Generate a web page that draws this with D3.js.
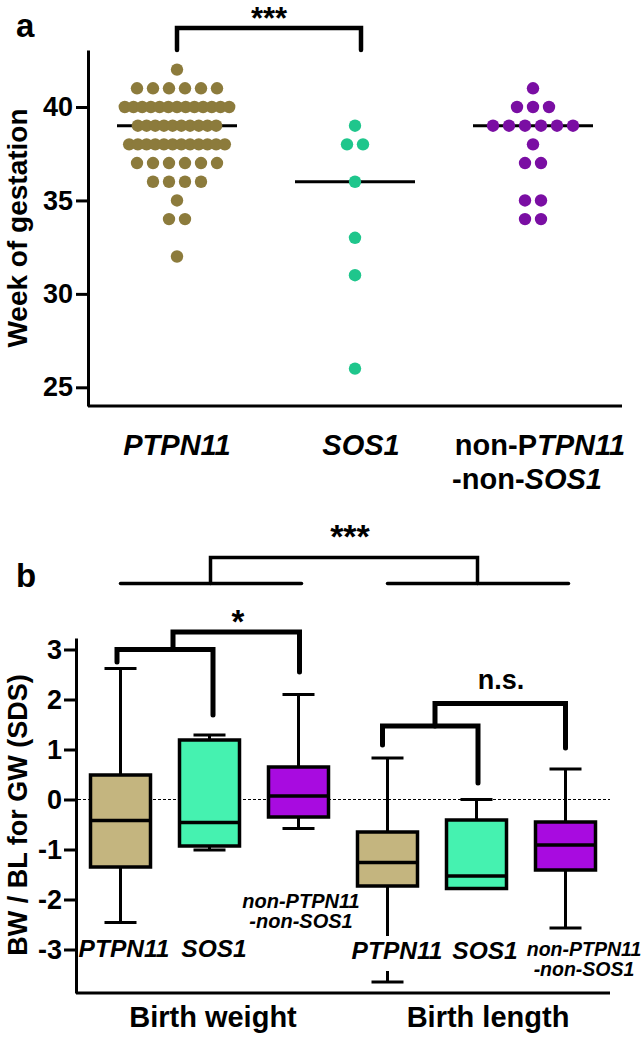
<!DOCTYPE html>
<html>
<head>
<meta charset="utf-8">
<script src="https://cdn.jsdelivr.net/npm/d3@7"></script>
<style>
  html, body { margin: 0; padding: 0; background: #fff; }
  svg { display: block; }
  text { font-family: "Liberation Sans", Arial, sans-serif; font-weight: bold; fill: #000; }
</style>
</head>
<body>
<div id="chart"></div>
<script>
// ---------- DATA: panel a (week of gestation, one value per dot) ----------
const groupsA = ["PTPN11", "SOS1", "non"];
const gestPTPN11 = [42,
  41, 41, 41, 41, 41, 41,
  40, 40, 40, 40, 40, 40, 40, 40, 40, 40, 40, 40, 40,
  39, 39, 39, 39, 39, 39, 39, 39, 39, 39,
  38, 38, 38, 38, 38, 38, 38, 38, 38, 38, 38, 38,
  37, 37, 37, 37, 37, 37,
  36, 36, 36, 36,
  35,
  34, 34,
  32];
const gestSOS1 = [39, 38, 38, 36, 33, 31, 26];
const gestNon = [41, 40, 40, 40, 39, 39, 39, 39, 39, 39, 38, 37, 37, 35, 35, 34, 34];
const gestMedians = [39, 36, 39];
const ticksA = [25, 30, 35, 40];

// ---------- DATA: panel b (box plots, SDS) ----------
const boxCategories = ["BW-PTPN11", "BW-SOS1", "BW-non", "BL-PTPN11", "BL-SOS1", "BL-non"];
const boxMin    = [-2.46, -1.01, -0.58, -3.65, -1.78, -2.57];
const boxQ1     = [-1.35, -0.93, -0.35, -1.73, -1.78, -1.41];
const boxMedian = [-0.42, -0.46,  0.07, -1.26, -1.53, -0.91];
const boxQ3     = [ 0.49,  1.19,  0.65, -0.65, -0.41, -0.45];
const boxMax    = [ 2.62,  1.29,  2.10,  0.83,  0.00,  0.61];
const ticksB = [-3, -2, -1, 0, 1, 2, 3];

const colDot = {PTPN11: "#8c7b3c", SOS1: "#1fc68c", non: "#7a0ea3"};
const colBox = ["#c4b57f", "#45f2b0", "#a80be0", "#c4b57f", "#45f2b0", "#a80be0"];

const W = 644, H = 1041;
const svg = d3.select("#chart").append("svg").attr("width", W).attr("height", H);

// ================= PANEL A =================
const xA = d3.scalePoint().domain(groupsA).range([88, 622]).padding(0.5);
const yA = d3.scaleLinear().domain([24, 43.05]).range([406, 50]);

const axA = svg.append("g").attr("transform", "translate(88,0)")
  .call(d3.axisLeft(yA).tickValues(ticksA).tickSize(12).tickSizeOuter(0).tickPadding(3));
axA.select(".domain").attr("stroke-width", 3);
axA.selectAll(".tick line").attr("stroke-width", 3);
axA.selectAll(".tick text").attr("font-size", 27).attr("font-family", "Liberation Sans, Arial, sans-serif").attr("font-weight", "bold").attr("fill", "#000");
svg.append("line").attr("x1", 88).attr("x2", 622).attr("y1", 406).attr("y2", 406)
  .attr("stroke", "#000").attr("stroke-width", 3);

// median lines
svg.selectAll(".medA").data(groupsA).enter().append("line")
  .attr("x1", d => xA(d) - 60).attr("x2", d => xA(d) + 60)
  .attr("y1", (d, i) => yA(gestMedians[i])).attr("y2", (d, i) => yA(gestMedians[i]))
  .attr("stroke", "#000").attr("stroke-width", 3);

// dots (row layout)
function rowLayout(values, g) {
  const counts = d3.rollup(values, v => v.length, v => v);
  const out = [];
  counts.forEach((n, v) => {
    const sp = n <= 7 ? 16 : 8.7;
    for (let i = 0; i < n; i++) out.push({g, v, dx: (i - (n - 1) / 2) * sp});
  });
  return out;
}
const dots = [].concat(rowLayout(gestPTPN11, "PTPN11"), rowLayout(gestSOS1, "SOS1"), rowLayout(gestNon, "non"));
svg.selectAll(".dot").data(dots).enter().append("circle")
  .attr("cx", d => xA(d.g) + d.dx).attr("cy", d => yA(d.v)).attr("r", 6.2)
  .attr("fill", d => colDot[d.g]);

// bracket a
const bx1 = xA("PTPN11"), bx2 = xA("SOS1") + 6;
svg.append("path").attr("d", `M${bx1},50 V28 H${bx2} V50`)
  .attr("fill", "none").attr("stroke", "#000").attr("stroke-width", 4.5).attr("stroke-linecap", "round").attr("stroke-linejoin", "miter");
svg.append("text").attr("x", (bx1 + bx2) / 2).attr("y", 29).attr("text-anchor", "middle").attr("font-size", 31).text("***");

// labels a
svg.append("text").attr("x", 16).attr("y", 37).attr("font-size", 33).text("a");
svg.append("text").attr("transform", `translate(27,228) rotate(-90)`).attr("text-anchor", "middle")
  .attr("font-size", 28).text("Week of gestation");
const labA = svg.append("g").attr("font-size", 29);
labA.append("text").attr("x", xA("PTPN11")).attr("y", 455).attr("text-anchor", "middle").attr("font-style", "italic").text("PTPN11");
labA.append("text").attr("x", xA("SOS1") + 6).attr("y", 455).attr("text-anchor", "middle").attr("font-style", "italic").text("SOS1");
const t1 = labA.append("text").attr("x", xA("non") + 7).attr("y", 455).attr("text-anchor", "middle");
t1.append("tspan").text("non-P");
t1.append("tspan").attr("font-style", "italic").text("TPN11");
const t2 = labA.append("text").attr("x", xA("non") - 6).attr("y", 489).attr("text-anchor", "middle");
t2.append("tspan").text("-non-");
t2.append("tspan").attr("font-style", "italic").text("SOS1");

// ================= PANEL B =================
const xB = d3.scalePoint().domain(boxCategories).range([76, 610]).padding(0.5);
const yB = d3.scaleLinear().domain([-3.87, 3.23]).range([993, 638]);
const boxW = 60, capW = 32;

const axB = svg.append("g").attr("transform", "translate(76,0)")
  .call(d3.axisLeft(yB).tickValues(ticksB).tickSize(12).tickSizeOuter(0).tickPadding(2).tickFormat(d3.format("d")));
axB.select(".domain").attr("stroke-width", 3);
axB.selectAll(".tick line").attr("stroke-width", 3);
axB.selectAll(".tick text").attr("font-size", 27).attr("font-family", "Liberation Sans, Arial, sans-serif").attr("font-weight", "bold").attr("fill", "#000")
  .text(d => d < 0 ? "-" + Math.abs(d) : d);
svg.append("line").attr("x1", 76).attr("x2", 610).attr("y1", 993).attr("y2", 993)
  .attr("stroke", "#000").attr("stroke-width", 3);

// zero reference line
svg.append("line").attr("x1", 78).attr("x2", 610).attr("y1", yB(0)).attr("y2", yB(0))
  .attr("stroke", "#000").attr("stroke-width", 1.2).attr("stroke-dasharray", "3,2");

// boxes
const boxes = svg.selectAll(".box").data(boxCategories).enter().append("g");
boxes.append("line").attr("x1", d => xB(d)).attr("x2", d => xB(d))
  .attr("y1", (d, i) => yB(boxMax[i])).attr("y2", (d, i) => yB(boxMin[i]))
  .attr("stroke", "#000").attr("stroke-width", 3);
boxes.append("line").attr("x1", d => xB(d) - capW / 2).attr("x2", d => xB(d) + capW / 2)
  .attr("y1", (d, i) => yB(boxMax[i])).attr("y2", (d, i) => yB(boxMax[i]))
  .attr("stroke", "#000").attr("stroke-width", 3);
boxes.append("line").attr("x1", d => xB(d) - capW / 2).attr("x2", d => xB(d) + capW / 2)
  .attr("y1", (d, i) => yB(boxMin[i])).attr("y2", (d, i) => yB(boxMin[i]))
  .attr("stroke", "#000").attr("stroke-width", 3);
boxes.append("rect").attr("x", d => xB(d) - boxW / 2).attr("width", boxW)
  .attr("y", (d, i) => yB(boxQ3[i])).attr("height", (d, i) => yB(boxQ1[i]) - yB(boxQ3[i]))
  .attr("fill", (d, i) => colBox[i]).attr("stroke", "#000").attr("stroke-width", 3.5);
boxes.append("line").attr("x1", d => xB(d) - boxW / 2).attr("x2", d => xB(d) + boxW / 2)
  .attr("y1", (d, i) => yB(boxMedian[i])).attr("y2", (d, i) => yB(boxMedian[i]))
  .attr("stroke", "#000").attr("stroke-width", 3.5);

// brackets b
function br(path, w) {
  svg.append("path").attr("d", path).attr("fill", "none").attr("stroke", "#000")
    .attr("stroke-width", w).attr("stroke-linecap", "round").attr("stroke-linejoin", "miter");
}
const c = k => xB(boxCategories[k]);
br(`M${c(0)},${yB(4.32)} H${c(2) + 3}`, 3.5);
br(`M${c(3)},${yB(4.32)} H${c(5) + 3}`, 3.5);
br(`M${c(1) + 1},${yB(4.32)} V${yB(4.84)} H${c(4) + 1} V${yB(4.32)}`, 3.5);
svg.append("text").attr("x", 350).attr("y", 548).attr("text-anchor", "middle").attr("font-size", 34).text("***");
br(`M${c(0) - 3.5},${yB(2.75)} V${yB(3.0)} H${c(1) + 3.5} V${yB(1.69)}`, 5);
br(`M${(c(0) + c(1)) / 2 + 8},${yB(3.0)} V${yB(3.35)} H${c(2) + 1} V${yB(2.55)}`, 5);
svg.append("text").attr("x", 238).attr("y", 633).attr("text-anchor", "middle").attr("font-size", 33).text("*");
br(`M${c(3) - 5},${yB(1.09)} V${yB(1.47)} H${c(4) + 1.5} V${yB(0.33)}`, 5);
br(`M${(c(3) + c(4)) / 2 + 3},${yB(1.47)} V${yB(1.92)} H${c(5)} V${yB(1.03)}`, 5);
svg.append("text").attr("x", 501).attr("y", 689).attr("text-anchor", "middle").attr("font-size", 27).text("n.s.");

// labels b
svg.append("text").attr("x", 16).attr("y", 587).attr("font-size", 33).text("b");
svg.append("text").attr("transform", `translate(27,815) rotate(-90)`).attr("text-anchor", "middle")
  .attr("font-size", 27).text("BW / BL for GW (SDS)");

function boxLabel(x, y, lines, size, bg) {
  const g = svg.append("g");
  lines.forEach((s, i) => g.append("text").attr("x", x).attr("y", y + i * 20)
    .attr("text-anchor", "middle").attr("font-style", "italic").attr("font-size", size).text(s));
  if (bg) {
    const bb = g.node().getBBox();
    g.insert("rect", "text").attr("x", bb.x - 2).attr("y", bb.y - 1).attr("width", bb.width + 4)
      .attr("height", bb.height + 8).attr("fill", "#fff");
  }
}
boxLabel(124, 957, ["PTPN11"], 24.5, false);
boxLabel(214, 957, ["SOS1"], 24.5, false);
boxLabel(301, 908, ["non-PTPN11", "-non-SOS1"], 20, false);
boxLabel(397, 959, ["PTPN11"], 24.5, true);
boxLabel(485, 959, ["SOS1"], 24.5, false);
boxLabel(584, 956, ["non-PTPN11", "-non-SOS1"], 19.5, false);

svg.append("text").attr("x", 213).attr("y", 1027).attr("text-anchor", "middle").attr("font-size", 29).text("Birth weight");
svg.append("text").attr("x", 488).attr("y", 1027).attr("text-anchor", "middle").attr("font-size", 29).text("Birth length");
</script>
</body>
</html>
